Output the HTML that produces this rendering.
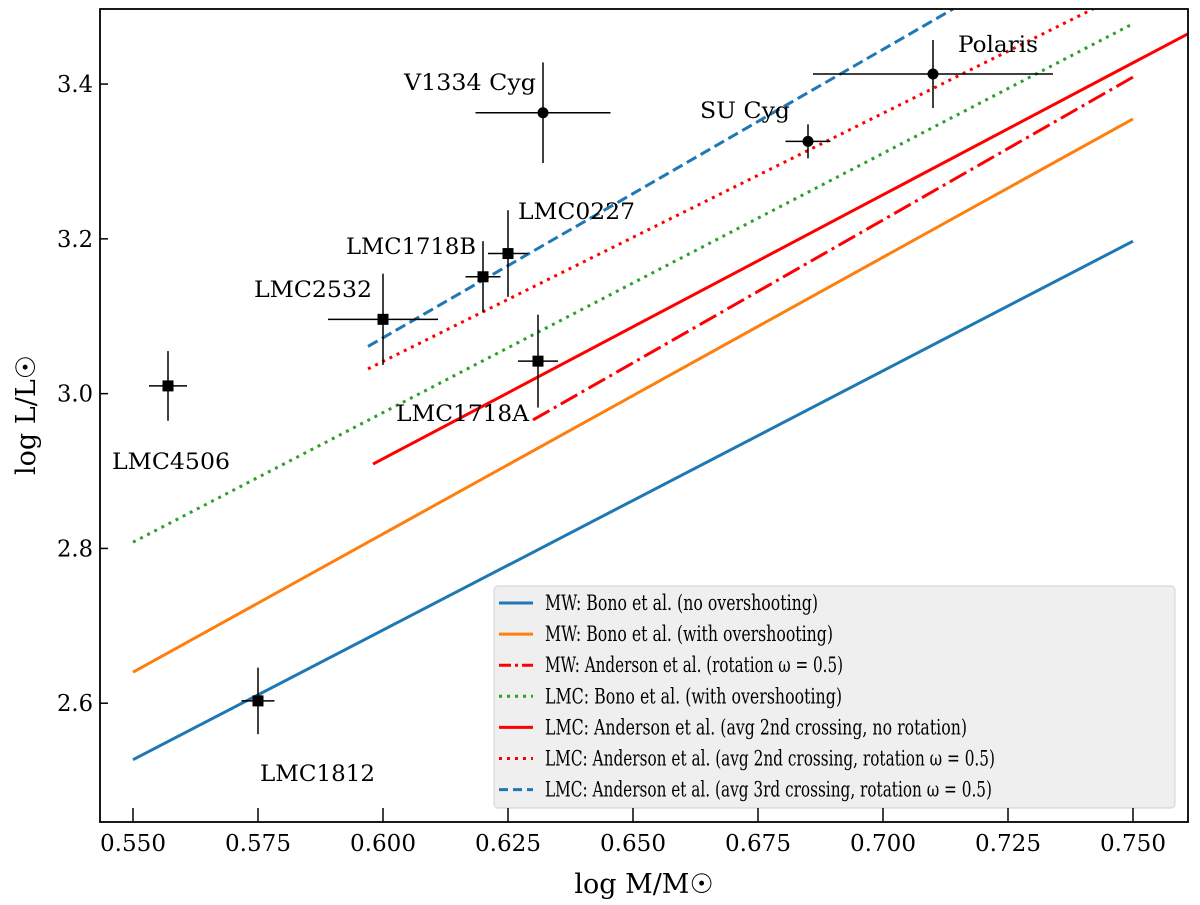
<!DOCTYPE html>
<html><head><meta charset="utf-8"><style>
html,body{margin:0;padding:0;background:#fff}
svg{display:block;font-family:"DejaVu Serif","Liberation Serif",serif}
</style></head><body>
<svg id="chart" width="1200" height="905" viewBox="0 0 1200 905" xmlns="http://www.w3.org/2000/svg">
<rect x="0" y="0" width="1200" height="905" fill="#fff"/>
<g id="plot"></g>
</svg>
<script>
const xTicks=[0.550,0.575,0.600,0.625,0.650,0.675,0.700,0.725,0.750];
const xTickLabels=["0.550","0.575","0.600","0.625","0.650","0.675","0.700","0.725","0.750"];
const yTicks=[2.6,2.8,3.0,3.2,3.4];
const yTickLabels=["2.6","2.8","3.0","3.2","3.4"];
// model lines: [x0,y0,x1,y1]
const lineMWBonoNo=[0.55,2.527,0.75,3.197];
const lineMWBonoOv=[0.55,2.640,0.75,3.355];
const lineMWAnd=[0.630,2.966,0.75,3.409];
const lineLMCBono=[0.55,2.808,0.75,3.478];
const lineLMCAnd=[0.598,2.909,0.761,3.465];
const lineLMCAndRot=[0.597,3.032,0.742,3.497];
const lineLMC3rd=[0.597,3.061,0.714,3.497];
// stars
const starNames=["Polaris","SU Cyg","V1334 Cyg","LMC0227","LMC1718B","LMC2532","LMC1718A","LMC4506","LMC1812"];
const starMass=[0.710,0.685,0.632,0.625,0.620,0.600,0.631,0.557,0.575];
const starLum=[3.413,3.326,3.363,3.181,3.151,3.096,3.042,3.010,2.603];
const starMassErr=[0.024,0.0045,0.0135,0.004,0.0035,0.011,0.004,0.0038,0.0033];
const starLumErr=[0.044,0.022,0.065,0.056,0.046,0.059,0.060,0.045,0.043];
const starMarker=["circle","circle","circle","square","square","square","square","square","square"];

const X0=100,X1=1188,Y0=9,Y1=822;
const xmin=0.5434,xmax=0.7610,ymin=2.4465,ymax=3.497;
const xs=v=>X0+(v-xmin)/(xmax-xmin)*(X1-X0);
const ys=v=>Y1-(v-ymin)/(ymax-ymin)*(Y1-Y0);
const NS="http://www.w3.org/2000/svg";
const g=document.getElementById('plot');
function mk(tag,attrs,parent){const e=document.createElementNS(NS,tag);for(const k in attrs)e.setAttribute(k,attrs[k]);(parent||g).appendChild(e);return e;}

const defs=mk('defs',{});
const cp=mk('clipPath',{id:'clip'},defs);
mk('rect',{x:X0,y:Y0,width:X1-X0,height:Y1-Y0},cp);
const data=mk('g',{'clip-path':'url(#clip)'});

function drawLine(arr,color,dash,name){
  const l=mk('line',{x1:xs(arr[0]),y1:ys(arr[1]),x2:xs(arr[2]),y2:ys(arr[3]),stroke:color,'stroke-width':3,'stroke-dasharray':dash||'none'},data);
  
  
}
drawLine(lineMWBonoNo,'#1f77b4','','line-mw-bono-no-overshooting');
drawLine(lineMWBonoOv,'#ff7f0e','','line-mw-bono-overshooting');
drawLine(lineMWAnd,'#ff0000','19,5,3,5','line-mw-anderson-rotation');
drawLine(lineLMCBono,'#2ca02c','3,5','line-lmc-bono-overshooting');
drawLine(lineLMCAnd,'#ff0000','','line-lmc-anderson-no-rotation');
drawLine(lineLMCAndRot,'#ff0000','3,5','line-lmc-anderson-rotation');
drawLine(lineLMC3rd,'#1f77b4','11,5','line-lmc-anderson-3rd-crossing');

const labelPos=[[958,52,80],[700,118,90],[404,90,132],[518,219,117],[346,254,130],[254,297,118],[396,421,133],[112,469,118],[260,781,115]];
for(let i=0;i<starNames.length;i++){
  const cx=xs(starMass[i]),cy=ys(starLum[i]);
  const sg=mk('g',{},data);
  
  
  mk('line',{x1:xs(starMass[i]-starMassErr[i]),x2:xs(starMass[i]+starMassErr[i]),y1:cy,y2:cy,stroke:'#000','stroke-width':1.5},sg);
  mk('line',{x1:cx,x2:cx,y1:ys(starLum[i]-starLumErr[i]),y2:ys(starLum[i]+starLumErr[i]),stroke:'#000','stroke-width':1.5},sg);
  if(starMarker[i]==='circle') mk('circle',{cx:cx,cy:cy,r:5.5,fill:'#000'},sg);
  else mk('rect',{x:cx-5.5,y:cy-5.5,width:11,height:11,fill:'#000'},sg);
  const t=mk('text',{x:labelPos[i][0],y:labelPos[i][1],'font-size':22,fill:'#000',textLength:labelPos[i][2],lengthAdjust:'spacingAndGlyphs'});
  t.textContent=starNames[i];
  
  
}

// legend
const lg=mk('g',{});


mk('rect',{x:494,y:586,width:681,height:222,rx:4,fill:'#efefef',stroke:'#d8d8d8','stroke-width':1.2},lg);
const legendLabels=["MW: Bono et al. (no overshooting)","MW: Bono et al. (with overshooting)","MW: Anderson et al. (rotation \u03C9 = 0.5)","LMC: Bono et al. (with overshooting)","LMC: Anderson et al. (avg 2nd crossing, no rotation)","LMC: Anderson et al. (avg 2nd crossing, rotation \u03C9 = 0.5)","LMC: Anderson et al. (avg 3rd crossing, rotation \u03C9 = 0.5)"];
const legendColors=['#1f77b4','#ff7f0e','#ff0000','#2ca02c','#ff0000','#ff0000','#1f77b4'];
const legendDash=['none','none','12,4,3,4','3,5','none','3,5','9,5'];
const legendWidths=[273,288,298,297,422,450,447];
for(let i=0;i<legendLabels.length;i++){
  const cy=603+31.1*i;
  const eg=mk('g',{},lg);
  
  
  mk('line',{x1:499,x2:533,y1:cy,y2:cy,stroke:legendColors[i],'stroke-width':3,'stroke-dasharray':legendDash[i]},eg);
  const t=mk('text',{x:545,y:cy+7,'font-size':21,fill:'#000',textLength:legendWidths[i],lengthAdjust:'spacingAndGlyphs'},eg);
  t.textContent=legendLabels[i];
}

// axes frame
const fr=mk('rect',{x:X0,y:Y0,width:X1-X0,height:Y1-Y0,fill:'none',stroke:'#000','stroke-width':1.8});


for(let i=0;i<xTicks.length;i++){
  const x=xs(xTicks[i]);
  mk('line',{x1:x,x2:x,y1:Y1,y2:Y1-14,stroke:'#000','stroke-width':1.5});
  const t=mk('text',{x:x,y:851,'font-size':23,'text-anchor':'middle',fill:'#000',textLength:66,lengthAdjust:'spacingAndGlyphs'});
  t.textContent=xTickLabels[i];
  
  
}
for(let i=0;i<yTicks.length;i++){
  const y=ys(yTicks[i]);
  mk('line',{x1:X0,x2:X0+8,y1:y,y2:y,stroke:'#000','stroke-width':1.5});
  const t=mk('text',{x:93,y:y+8,'font-size':23,'text-anchor':'end',fill:'#000',textLength:36,lengthAdjust:'spacingAndGlyphs'});
  t.textContent=yTickLabels[i];
  
  
}
const xt=mk('text',{x:644,y:893,'font-size':27,'text-anchor':'middle',fill:'#000'});
xt.textContent='log M/M\u2609';


const yt=mk('text',{x:0,y:0,'font-size':27,'text-anchor':'middle',fill:'#000',transform:'translate(35,415) rotate(-90)'});
yt.textContent='log L/L\u2609';


</script>
</body></html>
